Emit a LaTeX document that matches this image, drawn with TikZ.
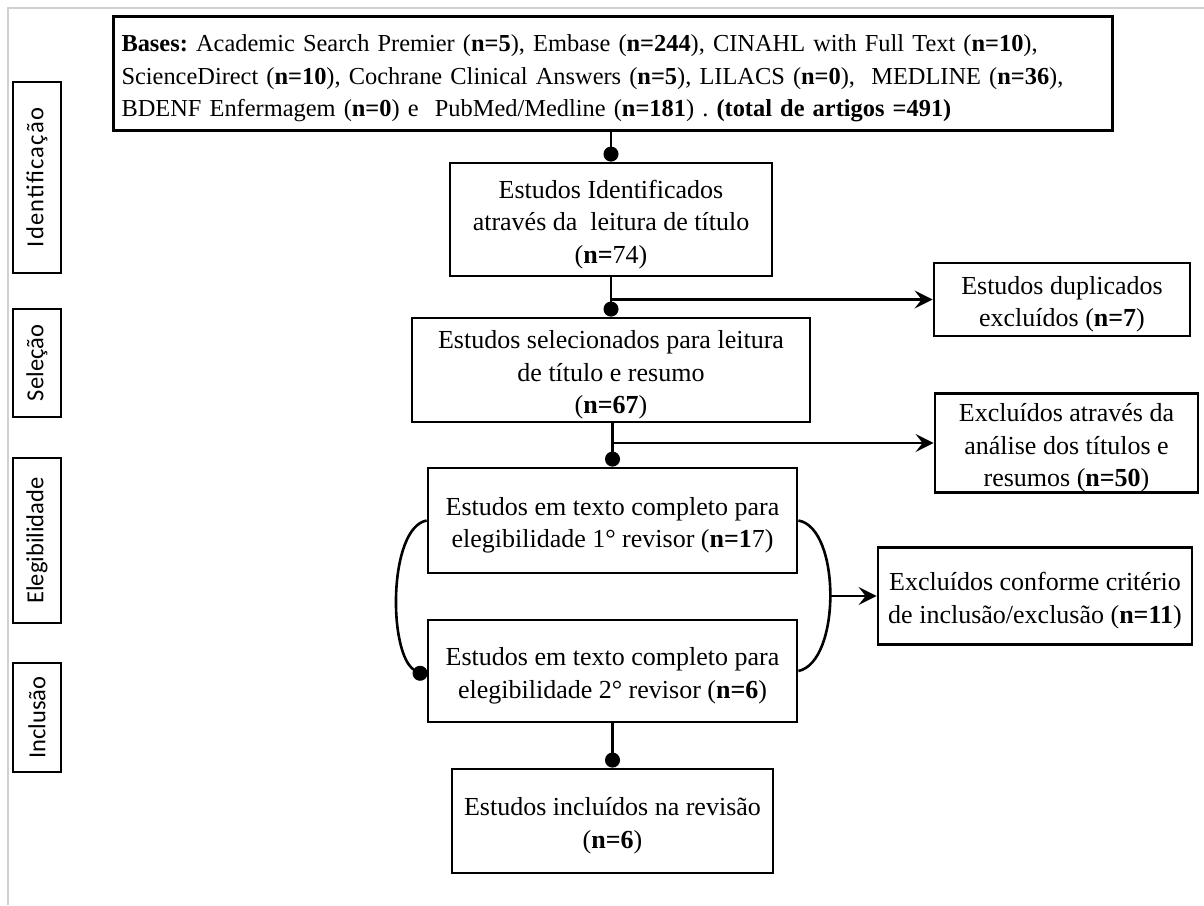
\documentclass[tikz,border=0pt]{standalone}
\usepackage{fontspec}
\setmainfont{Liberation Serif}
\newfontfamily\labfont{Carlito}
\usetikzlibrary{arrows.meta}
\frenchspacing
\newcommand\tstrut{\rule{0pt}{28pt}}
\begin{document}
\begin{tikzpicture}[x=1pt,y=-1pt,
  box/.style={draw, line width=2.8pt, align=center, inner sep=0pt, font=\fontsize{26}{32.5}\selectfont},
  lab/.style={draw, line width=2.8pt, rotate=90, inner sep=0pt, minimum height=48pt, font=\labfont\fontsize{24.5}{30}\selectfont},
  conn/.style={line width=2.6pt},
  dotend/.style={conn, -{Circle[length=15pt]}},
  arr/.style={conn, -{Stealth[length=18pt,width=18pt,inset=7pt]}},
]
\useasboundingbox (0,0) rectangle (1204,905);
\draw[black!18, line width=1.5pt] (8,905) -- (8,8) -- (1204,8);

% stage labels
\node[lab, minimum width=191pt] (l1) at (37,177.5) {\addfontfeature{LetterSpace=5}Identificação};
\node[lab, minimum width=108pt] (l2) at (37,363) {Seleção};
\node[lab, minimum width=165pt] (l3) at (37,540.5) {Elegibilidade};
\node[lab, minimum width=109pt] (l4) at (37,717.5) {Inclusão};

% main boxes
\node[box, line width=3pt, minimum width=999pt, minimum height=114pt, text width=982pt, align=left, inner xsep=8.5pt, font=\fontsize{24.4}{32.5}\selectfont] (bases) at (612.5,73)
{\tstrut\textbf{Bases:} Academic Search Premier (\textbf{n=5}), Embase (\textbf{n=244}), CINAHL with Full Text (\textbf{n=10}),\\
ScienceDirect (\textbf{n=10}), Cochrane Clinical Answers (\textbf{n=5}), LILACS (\textbf{n=0}), \ MEDLINE (\textbf{n=36}),\\
BDENF Enfermagem (\textbf{n=0}) e \ PubMed/Medline (\textbf{n=181}) . \textbf{(total de artigos =491)}};

\node[box, minimum width=322pt, minimum height=113pt] (ident) at (611,219.5)
{\tstrut Estudos Identificados\\através da \ leitura de título\\(\textbf{n=}74)};

\node[box, minimum width=398pt, minimum height=104pt] (sel) at (611,370)
{\tstrut Estudos selecionados para leitura\\de título e resumo\\(\textbf{n=67})};

\node[box, minimum width=369pt, minimum height=105pt] (el1) at (612.5,520.5)
{\tstrut Estudos em texto completo para\\elegibilidade 1° revisor (\textbf{n=1}7)};

\node[box, minimum width=369pt, minimum height=102pt] (el2) at (612.5,671)
{\tstrut Estudos em texto completo para\\elegibilidade 2° revisor (\textbf{n=6})};

\node[box, minimum width=321pt, minimum height=104pt] (inc) at (612.5,821)
{\tstrut Estudos incluídos na revisão\\(\textbf{n=6})};

% side boxes
\node[box, minimum width=256pt, minimum height=73pt] (dup) at (1062,299.5)
{\tstrut Estudos duplicados\\excluídos (\textbf{n=7})};

\node[box, minimum width=263pt, minimum height=99pt] (ex1) at (1066.5,443)
{\tstrut Excluídos através da\\análise dos títulos e\\resumos (\textbf{n=50})};

\node[box, minimum width=314pt, minimum height=97pt] (ex2) at (1035,596)
{\tstrut Excluídos conforme critério\\de inclusão/exclusão (\textbf{n=11})};

% connectors
\draw[dotend] (bases.south -| ident.north) -- (ident.north);
\draw[dotend] (ident.south) -- (sel.north);
\draw[arr] (ident.south |- dup.west) -- (dup.west);
\draw[dotend] (sel.south -| el1.north) -- (el1.north);
\draw[arr] (sel.south |- ex1.west) -- (ex1.west);
\draw[dotend] (el2.south) -- (inc.north);

\draw[dotend] (el1.west) .. controls (388,528) and (388,655) .. ([yshift=-6pt]el2.west);
\coordinate (rc) at (830,596);
\draw[conn] (el1.east) .. controls (841,528) and (841,662) .. (el2.east);
\draw[arr] (rc) -- (ex2.west);
\end{tikzpicture}
\end{document}
